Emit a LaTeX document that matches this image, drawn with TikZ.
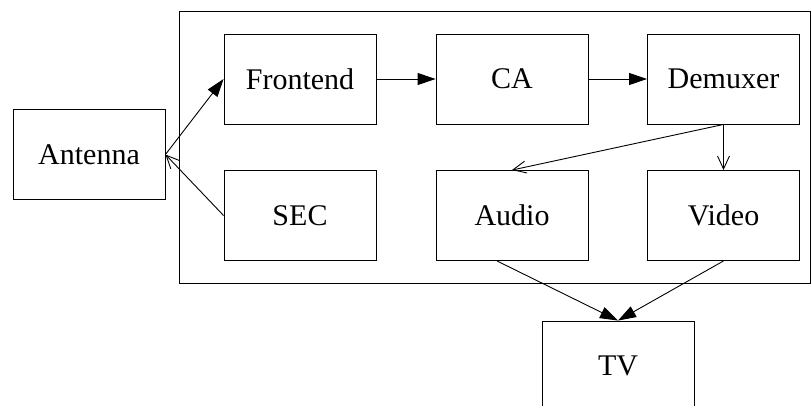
\documentclass[tikz,border=0pt]{standalone}
\usepackage{fontspec}
\setmainfont{Liberation Serif}
\usepackage{tikz}
\usetikzlibrary{arrows.meta}

\begin{document}
\begin{tikzpicture}[x=1pt,y=-1pt,
  blk/.style={draw,line width=0.9pt,minimum width=152pt,minimum height=90pt,inner sep=0pt,font=\fontsize{30}{36}\selectfont},
  fwd/.style={line width=0.9pt,-{Triangle[length=18pt,width=12pt]}},
  ret/.style={line width=0.9pt,-{Straight Barb[length=13pt,width=12pt,line width=0.9pt]}}]
\useasboundingbox (0,0) rectangle (811,405);
\draw[line width=0.9pt] (179,11) rectangle (810,283);
\node[blk] (antenna) at (89,154.5) {Antenna};
\node[blk] (frontend) at (300,79) {Frontend};
\node[blk] (ca) at (512,79) {CA};
\node[blk] (demuxer) at (723.5,79) {Demuxer};
\node[blk] (sec) at (300,215.5) {SEC};
\node[blk] (audio) at (512,215.5) {Audio};
\node[blk] (video) at (723.5,215.5) {Video};
\node[blk] (tv) at (618,366) {TV};
\draw[fwd] (antenna.east) -- (frontend.west);
\draw[ret] (sec.west) -- (antenna.east);
\draw[fwd] (frontend) -- (ca);
\draw[fwd] (ca) -- (demuxer);
\draw[ret] (demuxer.south) -- (audio.north);
\draw[ret] (demuxer.south) -- (video.north);
\draw[fwd] ([xshift=-15pt]audio.south) -- (tv.north);
\draw[fwd] (video.south) -- (tv.north);
\end{tikzpicture}
\end{document}
